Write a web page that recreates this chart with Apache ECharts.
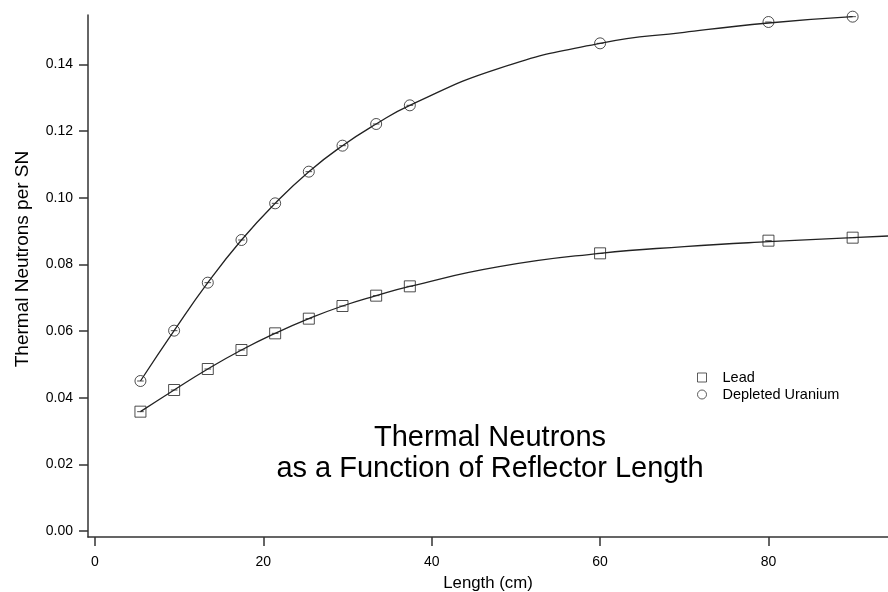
<!DOCTYPE html>
<html><head><meta charset="utf-8">
<script src="https://cdn.jsdelivr.net/npm/echarts@6/dist/echarts.min.js"></script>
<style>html,body{margin:0;padding:0;background:#fff}#c{width:888px;height:592px}</style>
</head><body><div id="c"></div>
<script>
// Measured lengths (cm)
const lengths = [5.4, 9.4, 13.4, 17.4, 21.4, 25.4, 29.4, 33.4, 37.4, 60, 80, 90];
const leadValues = [0.0358, 0.0423, 0.0486, 0.0543, 0.0593, 0.0637, 0.0675, 0.0706, 0.0734, 0.0833, 0.0871, 0.0880];
const uraniumValues = [0.0450, 0.0601, 0.0745, 0.0873, 0.0983, 0.1078, 0.1156, 0.1221, 0.1277, 0.1463, 0.1527, 0.1543];
// fitted curves, points
const leadFitX = [5.4, 9.4, 13.4, 17.4, 21.4, 25.4, 29.4, 33.4, 37.4, 48, 60, 70, 80, 90, 94.2];
const leadFitY = [0.0358, 0.0423, 0.0486, 0.0543, 0.0593, 0.0637, 0.0675, 0.0706, 0.0734, 0.0793, 0.0833, 0.0853, 0.0868, 0.0880, 0.0885];
const uraniumFitX = [5.4, 9.4, 13.4, 17.4, 21.4, 25.4, 29.4, 33.4, 37.4, 48, 60, 70, 80, 90];
const uraniumFitY = [0.0450, 0.0601, 0.0745, 0.0873, 0.0983, 0.1078, 0.1156, 0.1221, 0.1277, 0.1388, 0.1463, 0.1496, 0.1524, 0.1543];
const yTicks = [0, 0.02, 0.04, 0.06, 0.08, 0.10, 0.12, 0.14];
const xTicks = [0, 20, 40, 60, 80];
const seriesNames = ['Lead', 'Depleted Uranium'];
const titleLines = ['Thermal Neutrons', 'as a Function of Reflector Length'];

const zip = (a, b) => a.map((v, i) => [v, b[i]]);
const circleSym = 'path://M0,5 A5,5 0 1,1 10,5 A5,5 0 1,1 0,5 Z M2,5 L8,5';
const squareSym = 'path://M0,0 L10,0 L10,10 L0,10 Z M2,5 L8,5';
const font = '"Liberation Sans", Arial, sans-serif';

const chart = echarts.init(document.getElementById('c'));
chart.setOption({
  animation: false,
  textStyle: {fontFamily: font},
  title: {
    text: titleLines.join('\n'),
    left: 490, top: 422, textAlign: 'center', padding: 0,
    textStyle: {fontFamily: font, fontWeight: 'normal', fontSize: 29, lineHeight: 31, color: '#000'}
  },
  legend: {
    orient: 'vertical', left: 695, top: 370, itemGap: 2, padding: 0,
    itemWidth: 9, itemHeight: 9,
    textStyle: {fontFamily: font, fontSize: 14.5, color: '#000', padding: [0, 0, 0, 11]},
    itemStyle: {color: 'none', borderColor: '#333', borderWidth: 1},
    data: [{name: seriesNames[0], icon: 'rect'}, {name: seriesNames[1], icon: 'circle'}]
  },
  grid: {left: 88, right: 0, top: 15, bottom: 55, outerBoundsMode: 'none', containLabel: false},
  xAxis: {
    type: 'value', min: -0.83, max: 94.2,
    name: 'Length (cm)', nameLocation: 'middle', nameGap: 38,
    nameTextStyle: {fontFamily: font, fontSize: 16.8, color: '#000'},
    axisLine: {show: true, onZero: false, lineStyle: {color: '#333', width: 1.5}},
    axisTick: {show: true, length: 9, customValues: xTicks, lineStyle: {color: '#333', width: 1.5}},
    axisLabel: {customValues: xTicks, fontSize: 14, color: '#000', margin: 18, fontFamily: font},
    splitLine: {show: false}
  },
  yAxis: {
    type: 'value', min: -0.0018, max: 0.1548,
    name: 'Thermal Neutrons per SN', nameLocation: 'middle', nameGap: 56, nameRotate: 90,
    nameTextStyle: {fontFamily: font, fontSize: 19, color: '#000', padding: [0, 0, 0, 34]},
    axisLine: {show: true, onZero: false, lineStyle: {color: '#333', width: 1.5}},
    axisTick: {show: true, length: 9, customValues: yTicks, lineStyle: {color: '#333', width: 1.5}},
    axisLabel: {customValues: yTicks, fontSize: 14, color: '#000', margin: 15, fontFamily: font,
      formatter: v => v.toFixed(2)},
    splitLine: {show: false}
  },
  series: [
    {type: 'line', name: 'leadFit', data: zip(leadFitX, leadFitY), smooth: 0.5,
     showSymbol: false, symbol: 'none', lineStyle: {color: '#222', width: 1.3}, z: 2, silent: true},
    {type: 'line', name: 'uraniumFit', data: zip(uraniumFitX, uraniumFitY), smooth: 0.5,
     showSymbol: false, symbol: 'none', lineStyle: {color: '#222', width: 1.3}, z: 2, silent: true},
    {type: 'scatter', name: seriesNames[0], data: zip(lengths, leadValues), symbol: squareSym, symbolSize: 11,
     itemStyle: {color: 'none', borderColor: '#222', borderWidth: 1}, z: 3},
    {type: 'scatter', name: seriesNames[1], data: zip(lengths, uraniumValues), symbol: circleSym, symbolSize: 11,
     itemStyle: {color: 'none', borderColor: '#222', borderWidth: 1}, z: 3}
  ]
});
</script></body></html>
